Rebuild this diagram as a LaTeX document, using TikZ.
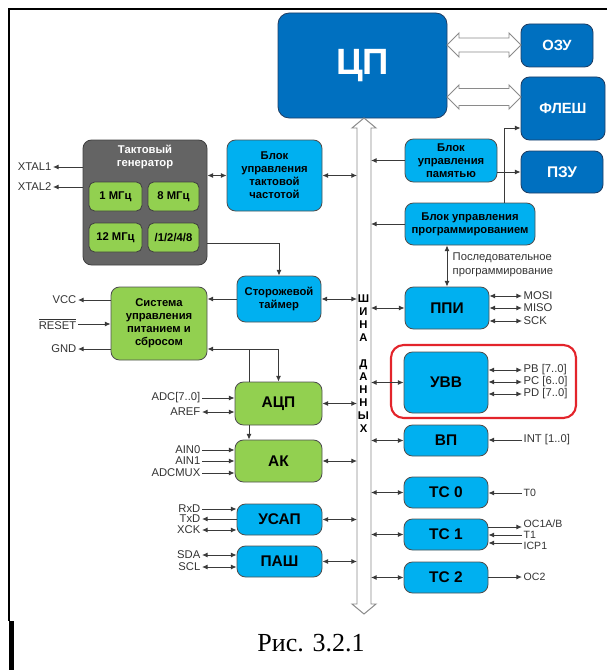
\documentclass[tikz,border=0pt]{standalone}
\usepackage{fontspec}
\setmainfont{Liberation Sans}
\newfontfamily\capfont{Liberation Serif}
\usetikzlibrary{arrows.meta}

\definecolor{cpublue}{HTML}{0070C0}
\definecolor{darkborder}{HTML}{1F3F66}
\definecolor{lightblue}{HTML}{00B0F0}
\definecolor{lightgreen}{HTML}{92D050}
\definecolor{gengray}{HTML}{646464}
\definecolor{genborder}{HTML}{404040}
\definecolor{bordergray}{HTML}{505050}
\definecolor{linegray}{HTML}{3A3A3A}
\definecolor{hollowgray}{HTML}{8A8A8A}
\definecolor{framered}{HTML}{E3242B}
\definecolor{txtgray}{HTML}{333333}

\tikzset{
    ln/.style={draw=linegray, line width=0.7pt},
    arr/.style={ln, -{Latex[length=4pt,width=3.6pt]}},
    darr/.style={ln, {Latex[length=4pt,width=3.6pt]}-{Latex[length=4pt,width=3.6pt]}},
    wh/.style 2 args={minimum width=#1*0.025cm, minimum height=#2*0.025cm},
    blk/.style={draw=bordergray, line width=0.6pt, rounded corners=6pt, inner sep=0pt, align=center},
    blueblk/.style={blk, fill=lightblue, font=\bfseries\fontsize{8}{9.25}\selectfont},
    greenblk/.style={blk, fill=lightgreen, font=\bfseries\fontsize{8}{9.25}\selectfont},
    bigtext/.style={font=\bfseries\fontsize{11}{13}\selectfont},
    darkblk/.style={blk, draw=darkborder, fill=cpublue, text=white, font=\bfseries\fontsize{10.5}{12}\selectfont},
    genblk/.style={blk, fill=gengray, draw=genborder},
    freqblk/.style={blk, fill=lightgreen, draw=genborder, rounded corners=4pt, font=\bfseries\fontsize{8}{9.25}\selectfont},
    lbl/.style={inner sep=1pt, text=txtgray, font=\fontsize{8}{10}\selectfont},
    hollow/.style={draw=hollowgray, fill=white, line width=0.7pt},
}

\newcommand{\widearrow}[4]{%
    \draw[hollow] (#1,#3) -- (#1+12,#3-12) -- (#1+12,#3-#4) -- (#2-12,#3-#4) -- (#2-12,#3-12) -- (#2,#3)
        -- (#2-12,#3+12) -- (#2-12,#3+#4) -- (#1+12,#3+#4) -- (#1+12,#3+12) -- cycle;}
\newcommand{\widevarrow}[4]{%
    \draw[hollow] (#1,#2) -- (#1+12,#2+10) -- (#1+#4,#2+10) -- (#1+#4,#3-10) -- (#1+12,#3-10) -- (#1,#3)
        -- (#1-12,#3-10) -- (#1-#4,#3-10) -- (#1-#4,#2+10) -- (#1-12,#2+10) -- cycle;}

\begin{document}
\begin{tikzpicture}[x=0.025cm, y=-0.025cm]
    \useasboundingbox (0,0) rectangle (607,670);
    \draw[black, line width=1pt] (607,9) -- (9,9) -- (9,621);
    \fill[black] (8.5,621) rectangle (13.5,670);

    \node[darkblk, wh={169}{105}, rounded corners=8pt, font=\bfseries\fontsize{26}{28}\selectfont] (cpu) at (362.5,65.5) {ЦП};
    \node[darkblk, wh={72}{43}] (ram) at (557,45.5) {ОЗУ};
    \node[darkblk, wh={84}{63}] (flash) at (563,108.5) {ФЛЕШ};
    \node[darkblk, wh={82}{42}, font=\bfseries\fontsize{11}{13}\selectfont] (rom) at (562,172) {ПЗУ};
    \widearrow{447}{521}{45}{7}
    \widearrow{447}{521}{97}{8.5}

    \widevarrow{364}{118}{614}{7}
    \node[inner sep=0pt, align=center, font=\bfseries\fontsize{8}{9.25}\selectfont] (busname) at (363.5,364)
        {Ш\\И\\Н\\А\\~\\Д\\А\\Н\\Н\\Ы\\Х};
    \coordinate (busL) at (357,0);
    \coordinate (busR) at (371,0);

    \node[genblk, wh={124}{125}] (gen) at (145,202.5) {};
    \node[text=white, align=center, inner sep=0pt, font=\bfseries\fontsize{8}{9.25}\selectfont] (gentitle) at (145,157) {Тактовый\\генератор};
    \node[freqblk, wh={53}{29}] (f1) at (115.5,196.5) {1 МГц};
    \node[freqblk, wh={51}{29}] (f8) at (173.5,196.5) {8 МГц};
    \node[freqblk, wh={53}{29}] (f12) at (115.5,237.5) {12 МГц};
    \node[freqblk, wh={51}{29}] (fdiv) at (173.5,237.5) {/1/2/4/8};

    \node[blueblk, wh={95}{71}] (clk) at (274.5,175.5) {Блок\\управления\\тактовой\\частотой};
    \node[blueblk, wh={84}{46}] (wdt) at (279,299) {Сторожевой\\таймер};
    \node[greenblk, wh={96}{73}] (pwr) at (159,323.5) {Система\\управления\\питанием и\\сбросом};
    \node[greenblk, bigtext, wh={87}{43}] (adc) at (278.5,403.5) {АЦП};
    \node[greenblk, bigtext, wh={87}{42}] (ak) at (278.5,461) {АК};
    \node[blueblk, bigtext, wh={85}{31}] (usart) at (279.5,519.5) {УСАП};
    \node[blueblk, bigtext, wh={85}{31}] (twi) at (279.5,561.5) {ПАШ};

    \node[blueblk, wh={92}{43}] (mem) at (451,160.5) {Блок\\управления\\памятью};
    \node[blueblk, wh={130}{42}] (prog) at (470,224) {Блок управления\\программированием};
    \node[blueblk, bigtext, wh={84}{42}] (spi) at (447,308) {ППИ};
    \node[draw=framered, line width=1.5pt, rounded corners=9pt, wh={185}{73}] (ioframe) at (483.5,381.5) {};
    \node[blueblk, bigtext, wh={84}{61}] (io) at (446,382.5) {УВВ};
    \node[blueblk, bigtext, wh={84}{31}] (ext) at (446,440.5) {ВП};
    \node[blueblk, bigtext, wh={84}{31}] (tc0) at (446,492.5) {ТС 0};
    \node[blueblk, bigtext, wh={84}{31}] (tc1) at (446,534.5) {ТС 1};
    \node[blueblk, bigtext, wh={84}{31}] (tc2) at (446,577.5) {ТС 2};

    \node[lbl, anchor=east] (xtal1) at (53,167) {XTAL1};
    \node[lbl, anchor=east] (xtal2) at (53,187) {XTAL2};
    \draw[arr] (gen.west |- xtal1) -- (xtal1.east);
    \draw[arr] (gen.west |- xtal2) -- (xtal2.east);
    \draw[darr] (gen.east |- clk.west) -- (clk.west);
    \draw[darr] (clk.east) -- (busL |- clk.east);
    \draw[arr] (gen.east |- 0,243) -| (wdt.north);
    \draw[arr] (wdt.west) -- (pwr.east |- wdt.west);
    \draw[darr] (wdt.east) -- (busL |- wdt.east);

    \node[lbl, anchor=east] (vcc) at (78,300) {VCC};
    \node[lbl, anchor=east] (reset) at (78,324) {$\overline{\mbox{RESET}}$};
    \node[lbl, anchor=east] (gnd) at (78,349) {GND};
    \draw[arr] (pwr.west |- vcc) -- (vcc.east);
    \draw[arr] (reset.east) -- (pwr.west |- reset);
    \draw[arr] (pwr.west |- gnd) -- (gnd.east);

    \coordinate (adcfb) at (249,349);
    \draw[arr] (adcfb |- adc.north) -- (adcfb) -- (pwr.east |- adcfb);
    \draw[arr] (adcfb) -| (adc.north);
    \draw[arr] (adcfb |- adc.south) -- (adcfb |- ak.north);

    \node[lbl, anchor=east] (adcin) at (202,398) {ADC[7..0]};
    \node[lbl, anchor=east] (aref) at (202,412) {AREF};
    \draw[arr] (adcin.east) -- (adc.west |- adcin);
    \draw[darr] (aref.east) -- (adc.west |- aref);
    \node[lbl, anchor=east] (ain0) at (202,450) {AIN0};
    \node[lbl, anchor=east] (ain1) at (202,461) {AIN1};
    \node[lbl, anchor=east] (adcmux) at (202,473) {ADCMUX};
    \draw[arr] (ain0.east) -- (ak.west |- ain0);
    \draw[arr] (ain1.east) -- (ak.west |- ain1);
    \draw[arr] (adcmux.east) -- (ak.west |- adcmux);
    \draw[darr] (adc.east) -- (busL |- adc.east);
    \draw[darr] (ak.east) -- (busL |- ak.east);

    \node[lbl, anchor=east] (rxd) at (202,509) {RxD};
    \node[lbl, anchor=east] (txd) at (202,519) {TxD};
    \node[lbl, anchor=east] (xck) at (202,530) {XCK};
    \draw[arr] (rxd.east) -- (usart.west |- rxd);
    \draw[arr] (usart.west |- txd) -- (txd.east);
    \draw[darr] (xck.east) -- (usart.west |- xck);
    \draw[darr] (usart.east) -- (busL |- usart.east);
    \node[lbl, anchor=east] (sda) at (202,555) {SDA};
    \node[lbl, anchor=east] (scl) at (202,567) {SCL};
    \draw[darr] (sda.east) -- (twi.west |- sda);
    \draw[darr] (scl.east) -- (twi.west |- scl);
    \draw[darr] (twi.east) -- (busL |- twi.east);

    \draw[arr] (mem.west) -- (busR |- mem.west);
    \draw[arr] (mem.east |- rom.west) -- (rom.west);
    \draw[arr] (prog.west) -- (busR |- prog.west);
    \coordinate (pj) at (504,128);
    \draw[arr] (pj |- prog.north) -- (pj) -- (flash.west |- pj);
    \draw[darr] (spi.north |- prog.south) -- (spi.north);
    \node[lbl, anchor=north west, align=left] (serial) at (451,251) {Последовательное\\программирование};

    \draw[darr] (busR |- spi.west) -- (spi.west);
    \node[lbl, anchor=west] (mosi) at (522,296) {MOSI};
    \node[lbl, anchor=west] (miso) at (522,308) {MISO};
    \node[lbl, anchor=west] (sck) at (522,321) {SCK};
    \draw[darr] (spi.east |- mosi) -- (mosi.west);
    \draw[darr] (spi.east |- miso) -- (miso.west);
    \draw[darr] (spi.east |- sck) -- (sck.west);

    \draw[darr] (busR |- io.west) -- (io.west);
    \node[lbl, anchor=west] (pb) at (522,370) {PB [7..0]};
    \node[lbl, anchor=west] (pc) at (522,382) {PC [6..0]};
    \node[lbl, anchor=west] (pd) at (522,394) {PD [7..0]};
    \draw[darr] (io.east |- pb) -- (pb.west);
    \draw[darr] (io.east |- pc) -- (pc.west);
    \draw[darr] (io.east |- pd) -- (pd.west);

    \draw[darr] (busR |- ext.west) -- (ext.west);
    \node[lbl, anchor=west] (int) at (522,440) {INT [1..0]};
    \draw[arr] (int.west) -- (ext.east |- int);

    \draw[darr] (busR |- tc0.west) -- (tc0.west);
    \node[lbl, anchor=west, font=\fontsize{7.5}{9}\selectfont] (t0) at (522,493) {T0};
    \draw[arr] (t0.west) -- (tc0.east |- t0);
    \draw[darr] (busR |- tc1.west) -- (tc1.west);
    \node[lbl, anchor=west, font=\fontsize{7.5}{9}\selectfont] (oc1) at (522,524) {OC1A/B};
    \node[lbl, anchor=west, font=\fontsize{7.5}{9}\selectfont] (t1) at (522,535) {T1};
    \node[lbl, anchor=west, font=\fontsize{7.5}{9}\selectfont] (icp1) at (522,546) {ICP1};
    \draw[arr] (tc1.east |- 0,527) -- (oc1.west |- 0,527);
    \draw[arr] (t1.west) -- (tc1.east |- t1);
    \draw[arr] (icp1.west |- 0,543) -- (tc1.east |- 0,543);
    \draw[darr] (busR |- tc2.west) -- (tc2.west);
    \node[lbl, anchor=west, font=\fontsize{7.5}{9}\selectfont] (oc2) at (522,577) {OC2};
    \draw[arr] (tc2.east |- oc2) -- (oc2.west);

    \node[font=\capfont\fontsize{18.5}{20}\selectfont] (caption) at (311,643) {Рис. 3.2.1};
\end{tikzpicture}
\end{document}
